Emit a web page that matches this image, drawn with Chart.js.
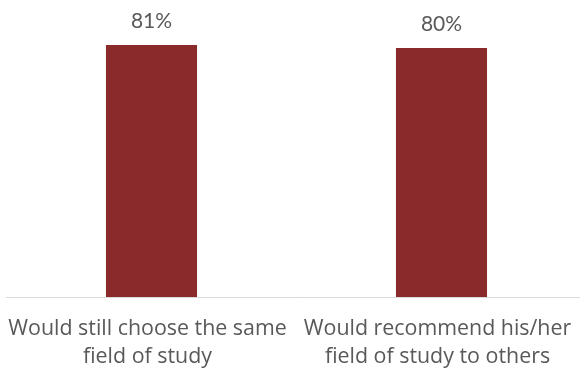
<!DOCTYPE html>
<html>
<head>
<meta charset="utf-8">
<script src="https://cdn.jsdelivr.net/npm/chart.js@4"></script>
<style>
  html, body { margin: 0; padding: 0; background: #fff; overflow: hidden; }
  #wrap { width: 590px; height: 368px; }
</style>
</head>
<body>
<div id="wrap"><canvas id="satisfactionChart"></canvas></div>
<script>
// categories and values (percent)
var categories = [
    ['Would still choose the same', 'field of study'],
    ['Would recommend his/her', 'field of study to others']
];
var shares = [81, 80];

// draws the percentage above each bar
var valueLabels = {
    id: 'valueLabels',
    afterDatasetsDraw: function(chart) {
        var ctx = chart.ctx;
        var meta = chart.getDatasetMeta(0);
        ctx.save();
        ctx.fillStyle = '#595959';
        ctx.font = '21px Lato';
        ctx.textAlign = 'center';
        ctx.textBaseline = 'middle';
        meta.data.forEach(function(bar, i) {
            ctx.fillText(shares[i] + '%', bar.x, bar.y - 24);
        });
        ctx.restore();
    }
};

var ctx = document.getElementById('satisfactionChart').getContext('2d');
var myChart = new Chart(ctx, {
    type: 'bar',
    data: {
        labels: categories,
        datasets: [{
            data: shares,
            backgroundColor: '#8B2A2B',
            barPercentage: 0.314,
            categoryPercentage: 1
        }]
    },
    options: {
        responsive: true,
        maintainAspectRatio: false,
        animation: false,
        layout: {
            padding: { left: 6.5, right: 3.5, top: 17, bottom: 0 }
        },
        scales: {
            x: {
                grid: { display: false, drawTicks: false },
                border: { display: true, color: '#d9d9d9', width: 1 },
                ticks: {
                    color: '#595959',
                    font: { family: 'Open Sans', size: 21.4, lineHeight: 1.35 },
                    padding: 17,
                    labelOffset: -4,
                    maxRotation: 0,
                    autoSkip: false
                },
                afterFit: function(scale) {
                    // fixed label band, no extra edge padding for wide labels
                    scale.height = 71;
                    scale.paddingLeft = 0;
                    scale.paddingRight = 0;
                }
            },
            y: {
                display: false,
                min: 0,
                max: 90
            }
        },
        plugins: {
            legend: { display: false },
            tooltip: { enabled: false }
        }
    },
    plugins: [valueLabels]
});
</script>
</body>
</html>
